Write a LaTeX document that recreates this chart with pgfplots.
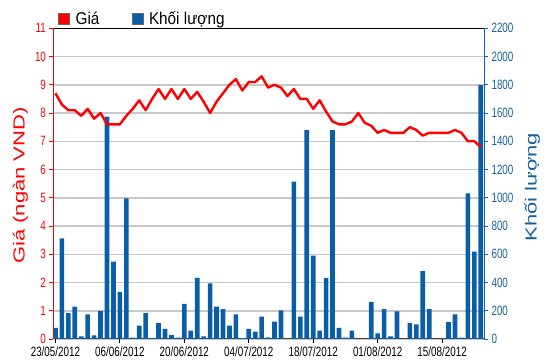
\documentclass[border=0pt]{standalone}
\usepackage{pgfplots}
\pgfplotsset{compat=1.18}
\usepackage{fontspec}
\setmainfont{Liberation Sans}
\usepackage{graphicx}
\definecolor{barblue}{RGB}{10,94,168}
\definecolor{axblue}{RGB}{22,98,160}
\definecolor{pred}{RGB}{255,0,0}
\definecolor{gridg}{RGB}{200,200,200}
\newcommand\sx[1]{\scalebox{0.73}[1]{#1}}
\newcommand\sy[1]{\scalebox{1}[0.73]{#1}}
\newcommand\slg[1]{\scalebox{0.9}[1]{#1}}
\begin{document}
\begin{tikzpicture}
\useasboundingbox (0,0) rectangle (550pt,364pt);
\begin{axis}[
  at={(53.5pt,25pt)}, anchor=south west, scale only axis,
  width=430.5pt, height=310.7pt,
  xmin=-0.3, xmax=66.5, ymin=0, ymax=2200,
  axis y line*=right, axis x line*=bottom,
  ytick={0,200,400,600,800,1000,1200,1400,1600,1800,2000,2200},
  yticklabels={\sx{0},\sx{200},\sx{400},\sx{600},\sx{800},\sx{1000},\sx{1200},\sx{1400},\sx{1600},\sx{1800},\sx{2000},\sx{2200}},
  xtick={0,10,20,30,40,50,60},
  xticklabels={\sx{23/05/2012},\sx{06/06/2012},\sx{20/06/2012},\sx{04/07/2012},\sx{18/07/2012},\sx{01/08/2012},\sx{15/08/2012}},
  tick align=outside, major tick length=4pt,
  ymajorgrids, grid style={gridg, line width=1.5pt},
  y axis line style={axblue, line width=0.8pt},
  x axis line style={black!75, line width=1pt},
  ytick style={axblue, line width=0.8pt},
  xtick style={black, line width=0.8pt},
  yticklabel style={text=axblue, font=\fontsize{13.5}{14}\selectfont},
  xticklabel style={text=black, font=\fontsize{13.5}{14}\selectfont},
  every axis y label/.style={at={(axis description cs:1.1115,0.489)}, rotate=90, anchor=center, font=\fontsize{22}{24}\selectfont, text=axblue},
  ylabel={\sy{Khối lượng}},
  ybar, bar width=0.72,
]
\addplot[fill=barblue, draw=none] coordinates {
(0,78) (1,712) (2,184) (3,229) (4,19) (5,175) (6,26) (7,200) (8,1575) (9,547)
(10,333) (11,995) (12,10) (13,94) (14,184) (15,8) (16,113) (17,71) (18,28) (19,9)
(20,248) (21,59) (22,432) (23,19) (24,394) (25,229) (26,212) (27,94) (28,175) (29,7)
(30,71) (31,52) (32,158) (33,12) (34,123) (35,203) (37,1115) (38,158) (39,1479)
(40,590) (41,59) (42,432) (43,1479) (44,78) (45,9) (46,59) (49,262)
(50,40) (51,212) (52,19) (53,196) (55,113) (56,104) (57,483) (58,212)
(61,120) (62,175) (63,9) (64,1031) (65,618) (66,1800)
};
\end{axis}
\begin{axis}[
  at={(53.5pt,25pt)}, anchor=south west, scale only axis,
  width=430.5pt, height=310.7pt,
  xmin=-0.3, xmax=66.5, ymin=0, ymax=11,
  axis y line*=left, axis x line*=top, xtick=\empty,
  ytick={0,1,2,3,4,5,6,7,8,9,10,11},
  yticklabels={\sx{0},\sx{1},\sx{2},\sx{3},\sx{4},\sx{5},\sx{6},\sx{7},\sx{8},\sx{9},\sx{10},\sx{11}},
  tick align=outside, major tick length=4pt,
  y axis line style={pred, line width=0.8pt},
  x axis line style={black, line width=0.8pt},
  ytick style={pred, line width=0.8pt},
  yticklabel style={text=pred, font=\fontsize{13.5}{14}\selectfont},
  every axis y label/.style={at={(axis description cs:-0.0767,0.494)}, rotate=90, anchor=center, font=\fontsize{22}{24}\selectfont, text=pred},
  ylabel={\sy{Giá (ngàn VND)}},
  legend columns=2,
  legend image code/.code={\draw[#1] (0pt,-5.5pt) rectangle (11pt,5.5pt);},
  legend style={draw=none, fill=none, at={(axis description cs:0,1)}, anchor=south west,
    xshift=4.5pt, inner sep=0pt, font=\fontsize{17}{18}\selectfont,
    /tikz/every odd column/.append style={column sep=4pt},
    /tikz/every even column/.append style={column sep=30pt}},
]
\addplot[pred, line width=2.4pt, line join=round, forget plot] coordinates {
(0,8.7) (1,8.3) (2,8.1) (3,8.1) (4,7.9) (5,8.15) (6,7.8) (7,8.0) (8,7.6) (9,7.6)
(10,7.6) (11,7.9) (12,8.15) (13,8.45) (14,8.1) (15,8.5) (16,8.85) (17,8.5) (18,8.85) (19,8.5)
(20,8.85) (21,8.5) (22,8.75) (23,8.4) (24,8.0) (25,8.4) (26,8.7) (27,9.0) (28,9.2) (29,8.8)
(30,9.1) (31,9.1) (32,9.3) (33,8.9) (34,9.0) (35,8.9) (36,8.6) (37,8.85) (38,8.5) (39,8.5)
(40,8.15) (41,8.45) (42,8.05) (43,7.7) (44,7.6) (45,7.6) (46,7.7) (47,8.0) (48,7.65) (49,7.55)
(50,7.3) (51,7.4) (52,7.3) (53,7.3) (54,7.3) (55,7.5) (56,7.4) (57,7.2) (58,7.3) (59,7.3)
(60,7.3) (61,7.3) (62,7.4) (63,7.3) (64,7.0) (65,7.0) (66,6.8)
};
\addlegendimage{fill=pred, draw=black!60, line width=0.5pt}
\addlegendentry{\slg{Giá}}
\addlegendimage{fill=barblue, draw=black!60, line width=0.5pt}
\addlegendentry{\slg{Khối lượng}}
\end{axis}
\end{tikzpicture}
\end{document}
